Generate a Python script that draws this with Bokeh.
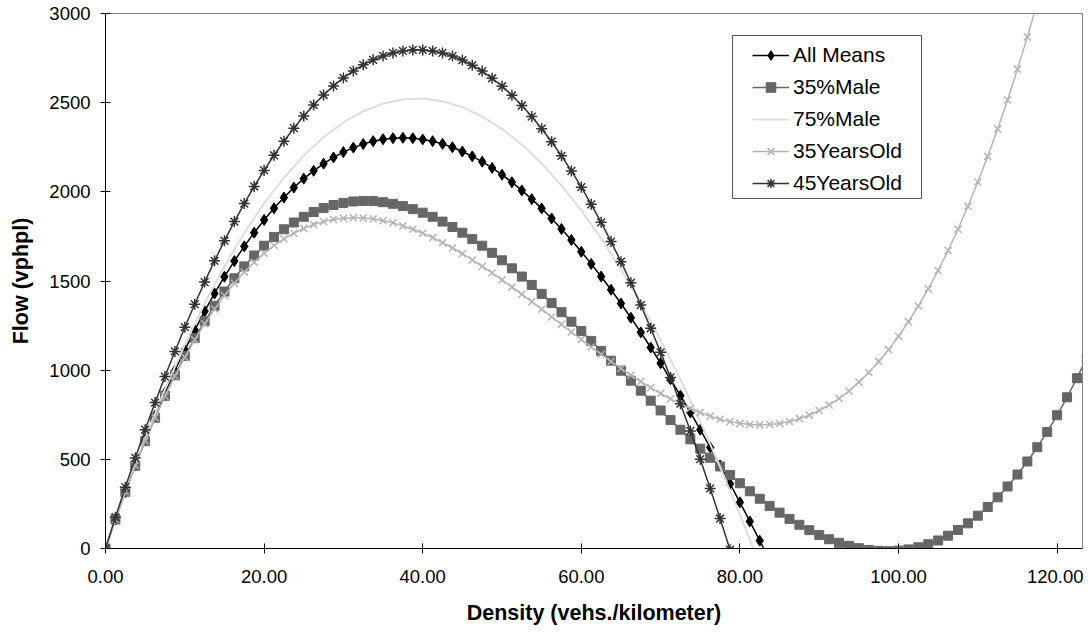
from bokeh.plotting import figure
from bokeh.models import Range1d, FixedTicker, NumeralTickFormatter, Legend, LegendItem, BoxAnnotation
from bokeh.embed import file_html
from bokeh.resources import INLINE

# Density (vehs./kilometer) at which flows were read
density = [0.0, 1.25, 2.5, 3.75, 5.0, 6.25, 7.5, 8.75, 10.0, 11.25, 12.5, 13.75, 15.0, 16.25,
           17.5, 18.75, 20.0, 21.25, 22.5, 23.75, 25.0, 26.25, 27.5, 28.75, 30.0, 31.25,
           32.5, 33.75, 35.0, 36.25, 37.5, 38.75, 40.0, 41.25, 42.5, 43.75, 45.0, 46.25,
           47.5, 48.75, 50.0, 51.25, 52.5, 53.75, 55.0, 56.25, 57.5, 58.75, 60.0, 61.25,
           62.5, 63.75, 65.0, 66.25, 67.5, 68.75, 70.0, 71.25, 72.5, 73.75, 75.0, 76.25,
           77.5, 78.75, 80.0, 81.25, 82.5, 83.75, 85.0, 86.25, 87.5, 88.75, 90.0, 91.25,
           92.5, 93.75, 95.0, 96.25, 97.5, 98.75, 100.0, 101.25, 102.5, 103.75, 105.0,
           106.25, 107.5, 108.75, 110.0, 111.25, 112.5, 113.75, 115.0, 116.25, 117.5,
           118.75, 120.0, 121.25, 122.5, 123.75]
density_75 = [0.0, 2.5, 5.0, 7.5, 10.0, 12.5, 15.0, 17.5, 20.0, 22.5, 25.0, 27.5, 30.0, 32.5,
              35.0, 37.5, 40.0, 42.5, 45.0, 47.5, 50.0, 52.5, 55.0, 57.5, 60.0, 62.5, 65.0,
              67.5, 70.0, 72.5, 75.0, 77.5, 80.0, 82.5]

# Flow (vphpl) per series
all_means = [0, 162, 317, 465, 608, 744, 873, 997, 1114, 1225, 1331, 1430, 1524, 1612, 1694,
             1771, 1842, 1908, 1968, 2024, 2074, 2118, 2158, 2193, 2223, 2248, 2268, 2284,
             2295, 2301, 2303, 2301, 2294, 2284, 2269, 2250, 2226, 2199, 2169, 2134, 2096,
             2054, 2008, 1959, 1907, 1851, 1792, 1730, 1664, 1596, 1525, 1451, 1374, 1294,
             1212, 1127, 1039, 949, 857, 763, 666, 567, 466, 363, 259, 152, 44, -66, -178]
male35 = [0, 163, 318, 464, 602, 733, 856, 971, 1079, 1180, 1274, 1361, 1441, 1515, 1582,
          1643, 1698, 1747, 1790, 1828, 1860, 1887, 1909, 1926, 1938, 1946, 1949, 1948, 1942,
          1933, 1920, 1903, 1883, 1860, 1833, 1803, 1771, 1735, 1698, 1658, 1616, 1571, 1525,
          1478, 1428, 1377, 1325, 1272, 1219, 1164, 1108, 1053, 997, 941, 885, 829, 774, 720,
          666, 612, 560, 509, 460, 412, 366, 321, 279, 239, 201, 166, 133, 103, 76, 52, 32,
          15, 2, -8, -13, -15, -12, -5, 7, 24, 45, 72, 104, 141, 184, 233, 287, 348, 415, 488,
          568, 654, 747, 848, 955, 1070]
male75 = [0, 320, 617, 892, 1144, 1374, 1583, 1770, 1935, 2079, 2203, 2306, 2389, 2452,
          2495, 2518, 2523, 2508, 2475, 2422, 2353, 2265, 2159, 2036, 1896, 1739, 1566,
          1376, 1170, 948, 711, 458, 190, -93]
years35 = [0, 164, 320, 466, 604, 733, 854, 967, 1072, 1170, 1260, 1343, 1418, 1487, 1550,
           1605, 1655, 1699, 1736, 1768, 1795, 1817, 1833, 1845, 1852, 1855, 1853, 1848, 1838,
           1826, 1809, 1790, 1768, 1743, 1715, 1685, 1653, 1618, 1582, 1545, 1506, 1466, 1425,
           1384, 1342, 1299, 1257, 1214, 1172, 1130, 1089, 1049, 1010, 972, 936, 902, 869, 839,
           810, 785, 762, 742, 725, 711, 702, 695, 693, 695, 701, 712, 728, 748, 774, 805, 841,
           883, 933, 987, 1049, 1115, 1190, 1272, 1360, 1456, 1559, 1671, 1790, 1919, 2055,
           2199, 2353, 2515, 2688, 2869, 3060]
years45 = [0, 175, 344, 508, 666, 818, 964, 1105, 1241, 1370, 1494, 1613, 1726, 1833, 1934,
           2030, 2120, 2205, 2284, 2357, 2425, 2487, 2543, 2594, 2639, 2678, 2712, 2740, 2762,
           2779, 2790, 2796, 2796, 2790, 2779, 2761, 2739, 2710, 2677, 2637, 2592, 2541, 2484,
           2422, 2354, 2281, 2202, 2117, 2026, 1930, 1829, 1721, 1608, 1490, 1365, 1235, 1100,
           959, 812, 659, 501, 337, 168, -7, -188]

series_names = ["All Means", "35%Male", "75%Male", "35YearsOld", "45YearsOld"]
x_ticks = [0, 20, 40, 60, 80, 100, 120]
y_ticks = [0, 500, 1000, 1500, 2000, 2500, 3000]

FONT = "Liberation Sans"

p = figure(width=1083, height=632, output_backend="svg", toolbar_location=None,
           x_range=Range1d(0, 123.2), y_range=Range1d(0, 3000),
           min_border_left=105, min_border_right=1, min_border_top=13, min_border_bottom=84)
p.xgrid.visible = False
p.ygrid.visible = False
p.outline_line_color = "#808080"
p.outline_line_width = 1
p.background_fill_color = "white"
p.border_fill_color = "white"

for ax in (p.xaxis[0], p.yaxis[0]):
    ax.axis_line_color = "black"
    ax.major_tick_line_color = "black"
    ax.major_tick_in = 5
    ax.major_tick_out = 5
    ax.minor_tick_line_color = None
    ax.major_label_text_font = FONT
    ax.major_label_text_font_size = "18.5px"
    ax.major_label_text_color = "black"
    ax.axis_label_text_font = FONT
    ax.axis_label_text_font_size = "21.5px"
    ax.axis_label_text_font_style = "bold"
    ax.axis_label_text_color = "black"

p.xaxis.ticker = FixedTicker(ticks=x_ticks)
p.xaxis.formatter = NumeralTickFormatter(format="0.00")
p.xaxis.axis_label = "Density (vehs./kilometer)"
p.xaxis.major_label_standoff = 16
p.xaxis.axis_label_standoff = 15

p.yaxis.ticker = FixedTicker(ticks=y_ticks)
p.yaxis.axis_label = "Flow (vphpl)"
p.yaxis.major_label_standoff = 10
p.yaxis.axis_label_standoff = 13

items = []

xs = density[:len(all_means)]
l1 = p.line(xs, all_means, line_color="black", line_width=1.5)
m1 = p.scatter(xs, all_means, marker="diamond", size=11, fill_color="black", line_color="black")
items.append(LegendItem(label=series_names[0], renderers=[l1, m1]))

xs = density[:len(male35)]
l2 = p.line(xs, male35, line_color="#666666", line_width=1.5)
m2 = p.scatter(xs, male35, marker="square", size=9, fill_color="#666666", line_color="#666666")
items.append(LegendItem(label=series_names[1], renderers=[l2, m2]))

l3 = p.line(density_75, male75, line_color="#dddddd", line_width=2)
items.append(LegendItem(label=series_names[2], renderers=[l3]))

xs = density[:len(years35)]
l4 = p.line(xs, years35, line_color="#b4b4b4", line_width=1.5)
m4 = p.scatter(xs, years35, marker="x", size=10, line_color="#b4b4b4", line_width=1.5)
items.append(LegendItem(label=series_names[3], renderers=[l4, m4]))

xs = density[:len(years45)]
l5 = p.line(xs, years45, line_color="#333333", line_width=1.5)
m5 = p.scatter(xs, years45, marker="asterisk", size=11, line_color="#333333", line_width=1.5)
items.append(LegendItem(label=series_names[4], renderers=[l5, m5]))

# legend frame (positioned in plot units to sit where the reference legend box is)
legend_box = BoxAnnotation(left=79.07, right=102.9, bottom=1962.7, top=2876.7,
                           fill_color="white", fill_alpha=1.0,
                           line_color="#555555", line_width=1, line_alpha=1.0)
p.add_layout(legend_box)

legend = Legend(items=items, location=(647, 353), margin=0, padding=0,
                spacing=8, label_height=24, glyph_height=24, glyph_width=37,
                label_standoff=4,
                label_text_font=FONT, label_text_font_size="21px", label_text_color="black",
                border_line_color=None, background_fill_alpha=0.0)
p.add_layout(legend)

open("out.html", "w").write(file_html(p, INLINE))
